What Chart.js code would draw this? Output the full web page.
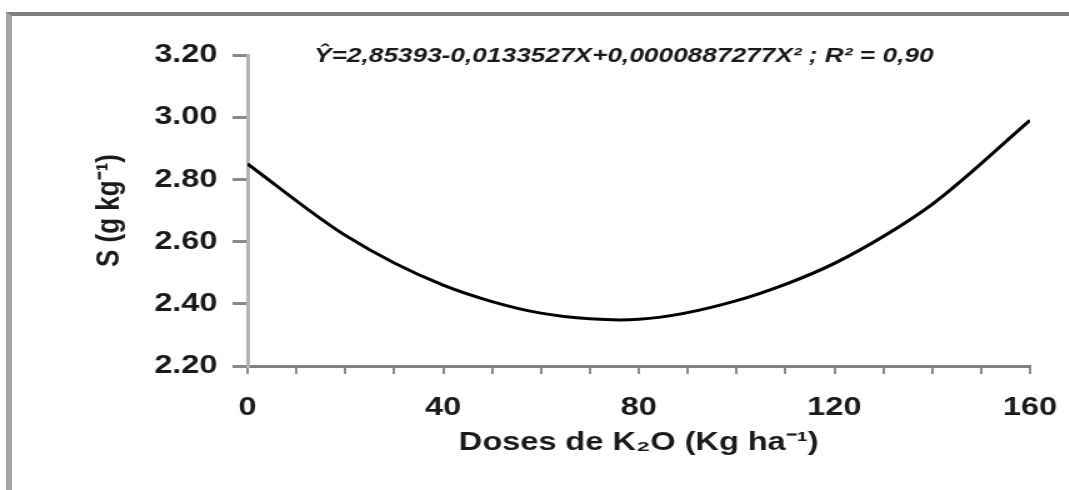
<!DOCTYPE html>
<html>
<head>
<meta charset="utf-8">
<script src="https://cdn.jsdelivr.net/npm/chart.js@4/dist/chart.umd.min.js"></script>
<style>
  body { margin: 0; background: #fff; overflow: hidden; }
  #frame { position: absolute; left: 6px; top: 12px; width: 1080px; height: 500px;
           border-top: 4px solid #7f7f7f; border-left: 6px solid #a4a4a4; }
  #wrap { position: absolute; left: 0; top: 0; width: 855px; height: 490px;
          transform: scaleX(1.25); transform-origin: 0 0; }
</style>
</head>
<body>
<div id="frame"></div>
<div id="wrap"><canvas id="mycanvas" width="855" height="490"></canvas></div>
<script>
// doses de K2O (kg/ha) and values
var doses = [0, 20, 40, 60, 80, 100, 120, 140, 160];
var teor = [2.85, 2.62, 2.46, 2.37, 2.35, 2.41, 2.53, 2.72, 2.99];
var xTickLabels = [0, 40, 80, 120, 160];
var yTicks = [2.2, 2.4, 2.6, 2.8, 3.0, 3.2];
var equacao = 'Ŷ=2,85393-0,0133527X+0,0000887277X² ; R² = 0,90';

Chart.defaults.font.family = '"Liberation Sans", Arial, sans-serif';
Chart.defaults.color = '#1a1a1a';

var points = [];
for (var i in doses) {
    points.push({x: doses[i], y: teor[i]});
}

// draws the regression equation at the top of the plot
var equationPlugin = {
    id: 'equation',
    afterDraw: function (chart) {
        var ctx = chart.ctx;
        ctx.save();
        ctx.font = 'italic bold 21px "Liberation Sans", Arial, sans-serif';
        ctx.fillStyle = '#1a1a1a';
        ctx.textAlign = 'center';
        ctx.textBaseline = 'middle';
        ctx.fillText(equacao, 499, 56);
        ctx.restore();
    }
};

var ctx = document.getElementById('mycanvas');
var lineGraph = new Chart(ctx, {
    type: 'scatter',
    data: {
        datasets: [{
            data: points,
            showLine: true,
            borderColor: '#000',
            borderWidth: 3,
            pointRadius: 0,
            tension: 0.3,
            fill: false
        }]
    },
    options: {
        responsive: false,
        animation: false,
        layout: { padding: { left: 0, right: 31, top: 55, bottom: 0 } },
        plugins: {
            legend: { display: false },
            tooltip: { enabled: false }
        },
        scales: {
            x: {
                type: 'linear',
                min: 0, max: 160,
                afterFit: function (s) {
                    s.height = 124;
                    s.paddingLeft = 0;
                    s.paddingRight = 0;
                },
                ticks: {
                    stepSize: 10,
                    autoSkip: false,
                    maxRotation: 0,
                    padding: 18,
                    font: { size: 26, weight: 'bold' },
                    callback: function (v) { return xTickLabels.indexOf(v) >= 0 ? String(v) : ''; }
                },
                grid: { drawOnChartArea: false, drawTicks: true, tickLength: 8, color: '#8a8a8a', lineWidth: 2 },
                border: { color: '#808080', width: 3 },
                title: {
                    display: true,
                    text: 'Doses de K₂O (Kg ha⁻¹)',
                    font: { size: 26, weight: 'bold' },
                    padding: { top: 0, bottom: 32 }
                }
            },
            y: {
                min: 2.2, max: 3.2,
                afterFit: function (s) { s.width = 198; },
                afterBuildTicks: function (s) { s.ticks = yTicks.map(function (v) { return {value: v}; }); },
                ticks: {
                    padding: 12,
                    font: { size: 26, weight: 'bold' },
                    callback: function (v) { return v.toFixed(2); }
                },
                grid: { drawOnChartArea: false, drawTicks: true, tickLength: 12, color: '#8a8a8a', lineWidth: 3 },
                border: { color: '#b4b4b4', width: 3 },
                title: {
                    display: true,
                    text: 'S (g kg⁻¹)',
                    font: { size: 26, weight: 'bold' },
                    padding: { top: 72, bottom: 0 }
                }
            }
        }
    },
    plugins: [equationPlugin]
});
</script>
</body>
</html>
